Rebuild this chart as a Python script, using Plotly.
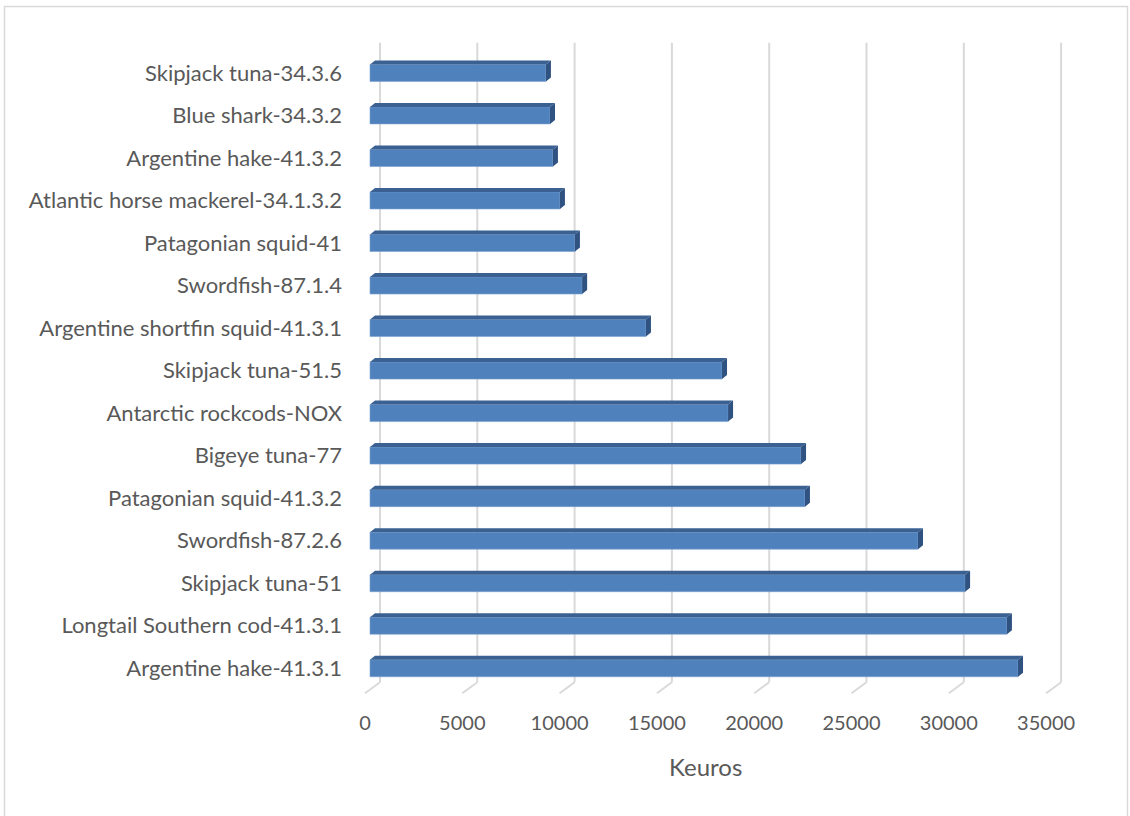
import plotly.graph_objects as go

categories = [
    "Argentine hake-41.3.1",
    "Longtail Southern cod-41.3.1",
    "Skipjack tuna-51",
    "Swordfish-87.2.6",
    "Patagonian squid-41.3.2",
    "Bigeye tuna-77",
    "Antarctic rockcods-NOX",
    "Skipjack tuna-51.5",
    "Argentine shortfin squid-41.3.1",
    "Swordfish-87.1.4",
    "Patagonian squid-41",
    "Atlantic horse mackerel-34.1.3.2",
    "Argentine hake-41.3.2",
    "Blue shark-34.3.2",
    "Skipjack tuna-34.3.6",
]
values = [33300, 32730, 30580, 28160, 22350, 22150, 18400, 18090, 14180,
          10900, 10530, 9760, 9400, 9250, 9040]
x_ticks = [0, 5000, 10000, 15000, 20000, 25000, 30000, 35000]
axis_title = "Keuros"

W, H = 1130, 816
ML, MR, MT, MB = 360, 55, 41, 118
PW, PH = W - ML - MR, H - MT - MB
X_RANGE = [-514, 36228]
Y_RANGE = [-0.7, 14.75]
ux = (X_RANGE[1] - X_RANGE[0]) / PW   # data units per px (x)
uy = (Y_RANGE[1] - Y_RANGE[0]) / PH   # data units per px (y)

bar_w = 0.4
ddx, ddy = 5 * ux, 4 * uy  # bar depth offset

FONT = "Lato"
TXT = "#595959"

ys = list(range(len(categories)))

fig = go.Figure()

# front faces
fig.add_trace(go.Bar(
    y=ys, x=values, orientation="h", width=bar_w, base=0,
    marker=dict(color="#4f81bd", line=dict(color="#7a9fcf", width=0.6)),
    hoverinfo="x+y", showlegend=False,
))

# top and side faces
top_x, top_y, side_x, side_y = [], [], [], []
for y, v in zip(ys, values):
    yt = y + bar_w / 2
    yb = y - bar_w / 2
    top_x += [0, ddx, v + ddx, v, 0, None]
    top_y += [yt, yt + ddy, yt + ddy, yt, yt, None]
    side_x += [v, v + ddx, v + ddx, v, v, None]
    side_y += [yt, yt + ddy, yb + ddy, yb, yt, None]

fig.add_trace(go.Scatter(x=top_x, y=top_y, fill="toself", mode="lines",
                         line=dict(width=0), fillcolor="#3b6193",
                         hoverinfo="skip", showlegend=False))
fig.add_trace(go.Scatter(x=side_x, y=side_y, fill="toself", mode="lines",
                         line=dict(width=0), fillcolor="#2f5281",
                         hoverinfo="skip", showlegend=False))

# gridlines on back wall and floor
back_dx = 10 * ux
front_dx = -5 * ux
y_top = 14.706
y_back_floor = -0.329
y_front_floor = -0.588
shapes = []
for t in x_ticks:
    shapes.append(dict(type="line", xref="x", yref="y", layer="below",
                       x0=t + back_dx, x1=t + back_dx, y0=y_back_floor, y1=y_top,
                       line=dict(color="#d9d9d9", width=2)))
    shapes.append(dict(type="line", xref="x", yref="y", layer="below",
                       x0=t + back_dx, x1=t + front_dx, y0=y_back_floor, y1=y_front_floor,
                       line=dict(color="#d9d9d9", width=2)))

# outer chart border (left, top, right) in figure pixels
def px2paper_x(px):
    return (px - ML) / PW

def py2paper_y(py):
    return (MT + PH - py) / PH

bl, bt, br, bb = 4.5, 6.5, 1127.5, 840
shapes.append(dict(type="path", xref="paper", yref="paper", layer="below",
                   path=f"M {px2paper_x(bl)} {py2paper_y(bb)} L {px2paper_x(bl)} {py2paper_y(bt)} "
                        f"L {px2paper_x(br)} {py2paper_y(bt)} L {px2paper_x(br)} {py2paper_y(bb)}",
                   line=dict(color="#d9d9d9", width=1.5)))

fig.update_layout(
    width=W, height=H,
    margin=dict(l=ML, r=MR, t=MT, b=MB, autoexpand=False),
    paper_bgcolor="white", plot_bgcolor="white",
    font=dict(family=FONT, color=TXT, size=21),
    shapes=shapes,
    bargap=0.6,
    xaxis=dict(range=X_RANGE, tickvals=x_ticks, ticktext=[str(t) for t in x_ticks],
               showgrid=False, zeroline=False, showline=False, ticks="",
               ticklabelshift=-5, ticklabelstandoff=11,
               tickfont=dict(family=FONT, size=20, color=TXT)),
    yaxis=dict(range=Y_RANGE, tickvals=ys, ticktext=categories,
               showgrid=False, zeroline=False, showline=False, ticks="",
               ticklabelstandoff=17,
               tickfont=dict(family=FONT, size=22, color=TXT)),
    annotations=[dict(text=axis_title, xref="paper", yref="paper",
                      x=px2paper_x(705), y=py2paper_y(766),
                      xanchor="center", yanchor="middle", showarrow=False,
                      font=dict(family=FONT, size=24, color=TXT))],
)

fig.write_html("out.html", config={"displayModeBar": False},
               post_script="document.body.style.margin='0px';")
